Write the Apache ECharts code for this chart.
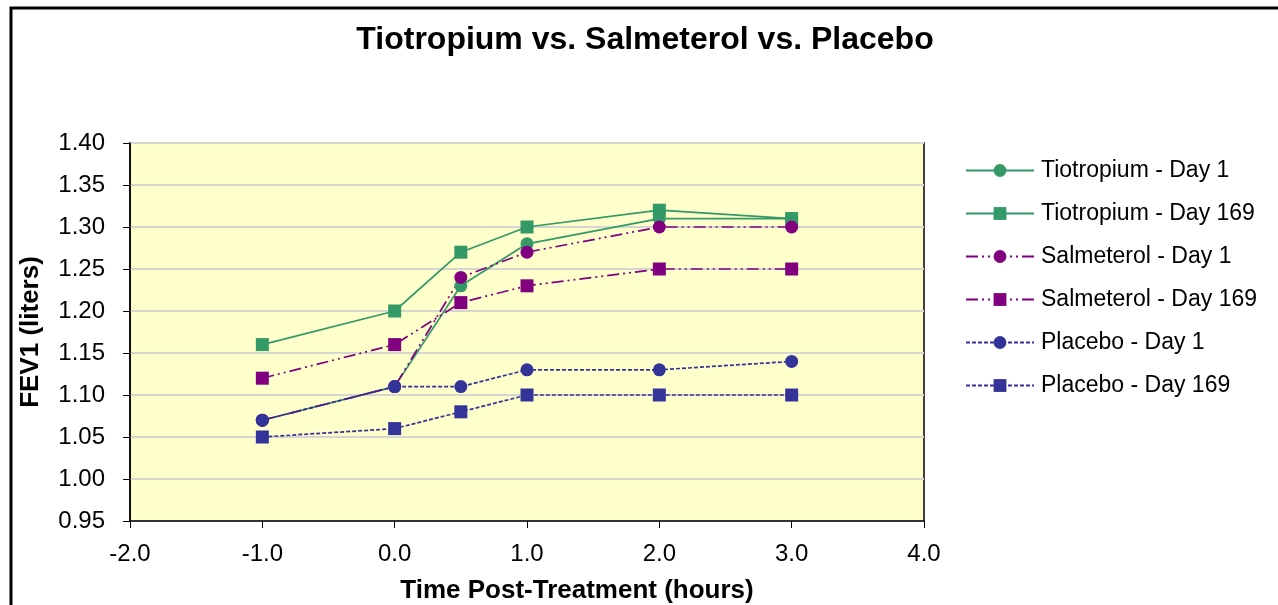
<!DOCTYPE html>
<html><head><meta charset="utf-8">
<script src="https://cdn.jsdelivr.net/npm/echarts@6/dist/echarts.min.js"></script>
<style>html,body{margin:0;padding:0;background:#fff}#c{width:1278px;height:605px}</style>
</head><body><div id="c"></div>
<script>
const hours = [-1.0, 0.0, 0.5, 1.0, 2.0, 3.0];
const tioDay1 = [1.07, 1.11, 1.23, 1.28, 1.31, 1.31];
const tioDay169 = [1.16, 1.20, 1.27, 1.30, 1.32, 1.31];
const salDay1 = [1.07, 1.11, 1.24, 1.27, 1.30, 1.30];
const salDay169 = [1.12, 1.16, 1.21, 1.23, 1.25, 1.25];
const plaDay1 = [1.07, 1.11, 1.11, 1.13, 1.13, 1.14];
const plaDay169 = [1.05, 1.06, 1.08, 1.10, 1.10, 1.10];
const seriesNames = ['Tiotropium - Day 1','Tiotropium - Day 169','Salmeterol - Day 1','Salmeterol - Day 169','Placebo - Day 1','Placebo - Day 169'];

const FONT = '"Liberation Sans", Arial, sans-serif';
const pts = v => hours.map((h, i) => [h, v[i]]);
function mk(name, vals, color, symbol, dash) {
  return {
    name, type: 'line', data: pts(vals), symbol, symbolSize: 13,
    itemStyle: { color },
    lineStyle: { color, width: 1.7, type: dash },
    emphasis: { disabled: true }, animation: false
  };
}
const chart = echarts.init(document.getElementById('c'));
chart.setOption({
  animation: false,
  backgroundColor: '#ffffff',
  title: {
    text: 'Tiotropium vs. Salmeterol vs. Placebo', left: 640, top: 19, textAlign: 'center',
    textStyle: { fontFamily: FONT, fontSize: 32, fontWeight: 'bold', color: '#000' }
  },
  graphic: [{ type: 'rect', shape: { x: 11, y: 8, width: 1400, height: 800 },
    style: { fill: 'none', stroke: '#000', lineWidth: 3 }, z: 100 }],
  legend: {
    orient: 'vertical', left: 960, top: 154, itemWidth: 68, itemHeight: 16, itemGap: 20,
    data: seriesNames,
    textStyle: { fontFamily: FONT, fontSize: 23, color: '#000', padding: [0,0,0,2] }
  },
  grid: { left: 130, top: 143, right: 354, bottom: 84, show: true, containLabel: false, outerBoundsMode: 'none',
    backgroundColor: '#FFFFCC', borderColor: '#000', borderWidth: 1.5 },
  xAxis: {
    type: 'value', min: -2, max: 4, interval: 1,
    name: 'Time Post-Treatment (hours)', nameLocation: 'middle', nameGap: 57,
    nameTextStyle: { fontFamily: FONT, fontSize: 26, fontWeight: 'bold', color: '#000', padding: [0,0,0,100] },
    axisLine: { show: true, onZero: false, lineStyle: { color: '#000', width: 1.5 } },
    axisTick: { show: true, length: 7, lineStyle: { color: '#000' } },
    axisLabel: { fontFamily: FONT, fontSize: 24, color: '#000', margin: 21, formatter: v => v.toFixed(1) },
    splitLine: { show: false }
  },
  yAxis: {
    type: 'value', min: 0.95, max: 1.40, interval: 0.05,
    name: 'FEV1 (liters)', nameLocation: 'middle', nameGap: 86,
    nameTextStyle: { fontFamily: FONT, fontSize: 26, fontWeight: 'bold', color: '#000' },
    axisLine: { show: true, onZero: false, lineStyle: { color: '#000', width: 1.5 } },
    axisTick: { show: true, length: 7, lineStyle: { color: '#000' } },
    axisLabel: { fontFamily: FONT, fontSize: 24, color: '#000', margin: 25, formatter: v => v.toFixed(2) },
    splitLine: { show: true, lineStyle: { color: '#d6d6d0', width: 2 } }
  },
  series: [
    mk(seriesNames[0], tioDay1, '#339966', 'circle', 'solid'),
    mk(seriesNames[1], tioDay169, '#339966', 'rect', 'solid'),
    mk(seriesNames[2], salDay1, '#800080', 'circle', [12,4,2,4,2,4]),
    mk(seriesNames[3], salDay169, '#800080', 'rect', [12,4,2,4,2,4]),
    mk(seriesNames[4], plaDay1, '#333399', 'circle', [4,2]),
    mk(seriesNames[5], plaDay169, '#333399', 'rect', [4,2])
  ]
});
</script></body></html>
